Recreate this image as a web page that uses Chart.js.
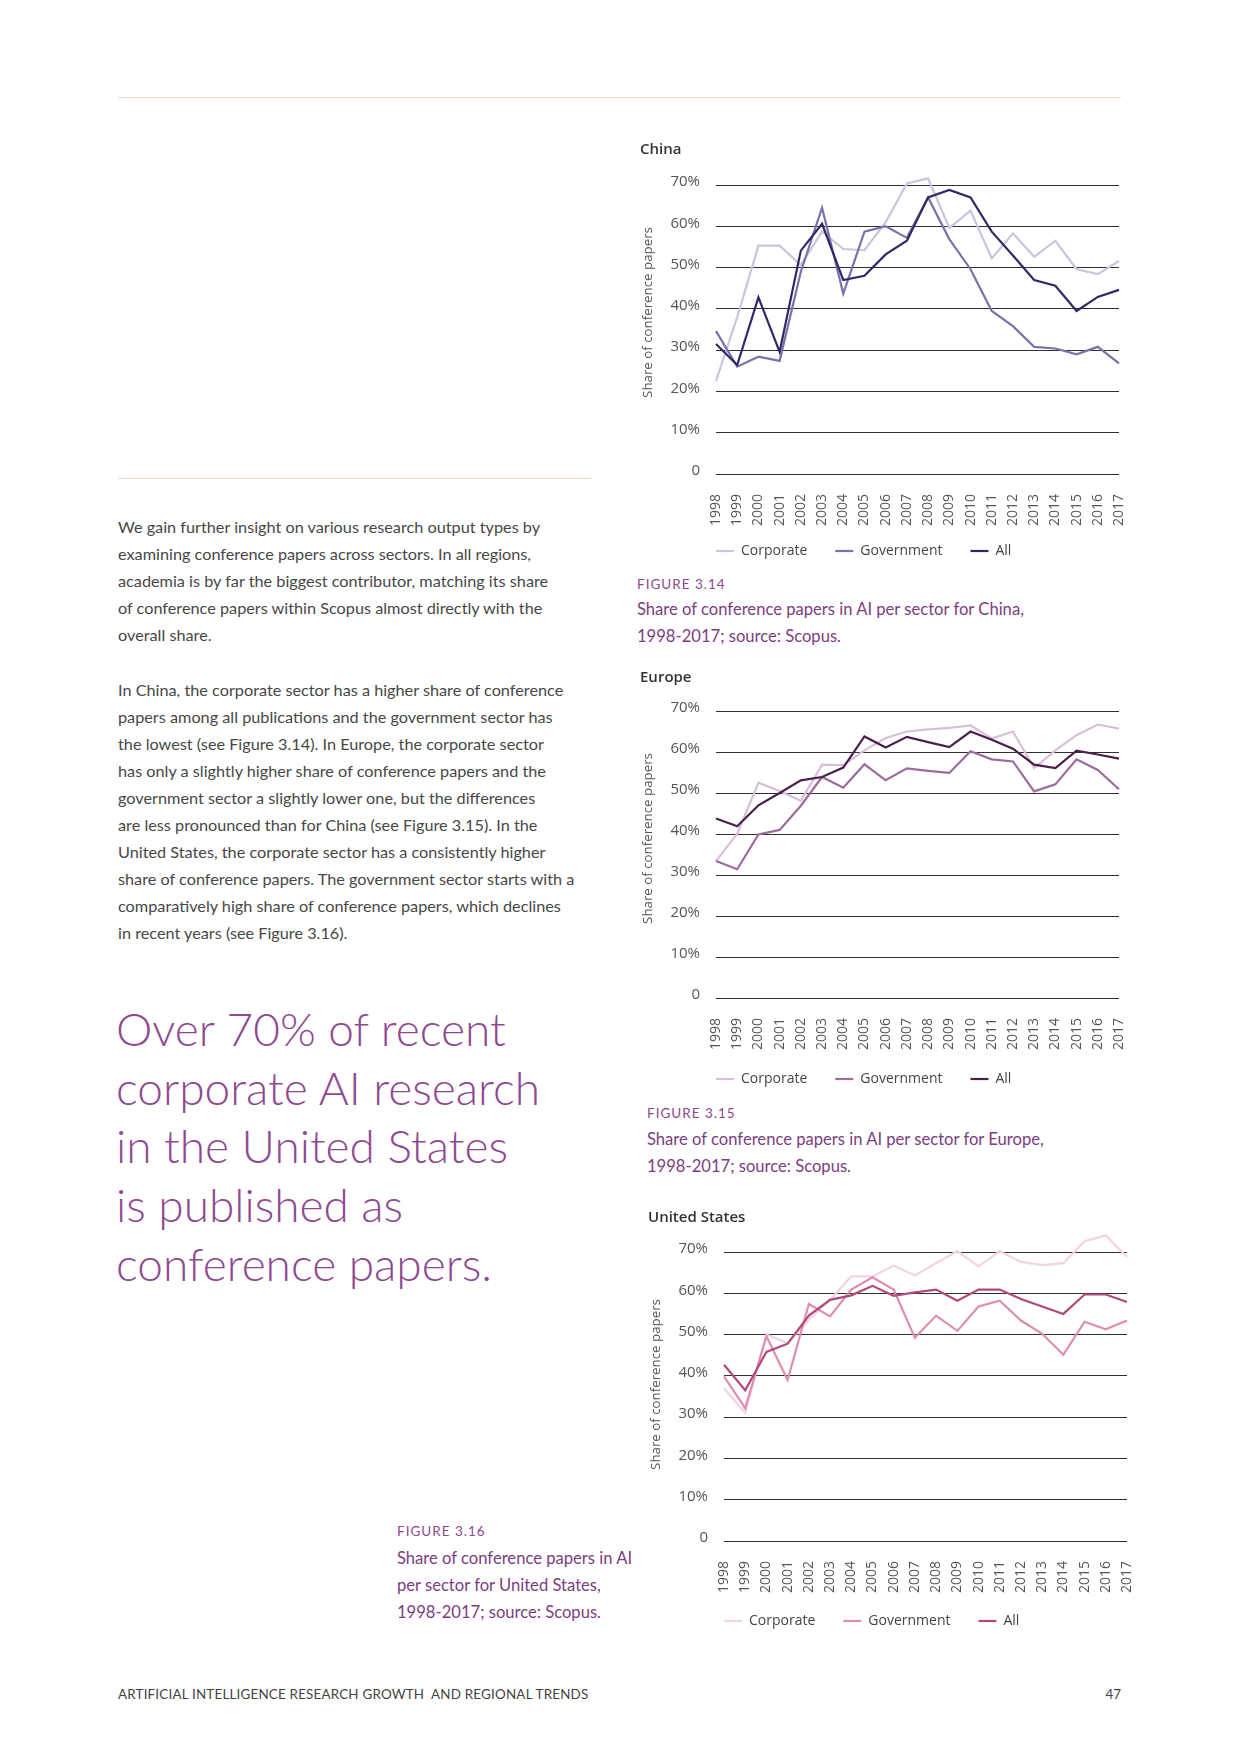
<!DOCTYPE html>
<html>
<head>
<meta charset="utf-8">
<script src="https://cdn.jsdelivr.net/npm/chart.js@4.4.0/dist/chart.umd.min.js"></script>
<style>
  body { margin: 0; background: #fff; }
  #page { position: relative; width: 1240px; height: 1754px; font-family: Lato, "Open Sans", sans-serif; }
  .rule { position: absolute; height: 1px; background: #f6d8c0; }
  .abs { position: absolute; white-space: nowrap; }
  .body { left: 118px; top: 513px; font-size: 16.25px; line-height: 27.1px; color: #474747; }
  .quote { left: 116px; top: 1000px; font-size: 46px; line-height: 58.7px; font-weight: 300; color: #8e4a91; }
  .figlabel { font-size: 13.5px; letter-spacing: 1px; color: #8b4a8c; line-height: 16px; }
  .figtext { font-size: 16.6px; color: #7b3e7e; line-height: 26.8px; }
  .footer { left: 118px; top: 1686px; font-size: 13.4px; color: #444; letter-spacing: 0.2px; line-height: 16px; }
  .pageno { left: 1090px; width: 31px; text-align: right; top: 1686px; font-size: 13.4px; color: #444; line-height: 16px; }
  canvas { position: absolute; }
</style>
</head>
<body>
<div id="page">
  <div class="rule" style="left:118px; top:97px; width:1003px;"></div>
  <div class="rule" style="left:118px; top:478px; width:473px;"></div>

  <div class="abs body">
    We gain further insight on various research output types by<br>
    examining conference papers across sectors. In all regions,<br>
    academia is by far the biggest contributor, matching its share<br>
    of conference papers within Scopus almost directly with the<br>
    overall share.<br><br>
    In China, the corporate sector has a higher share of conference<br>
    papers among all publications and the government sector has<br>
    the lowest (see Figure 3.14). In Europe, the corporate sector<br>
    has only a slightly higher share of conference papers and the<br>
    government sector a slightly lower one, but the differences<br>
    are less pronounced than for China (see Figure 3.15). In the<br>
    United States, the corporate sector has a consistently higher<br>
    share of conference papers. The government sector starts with a<br>
    comparatively high share of conference papers, which declines<br>
    in recent years (see Figure 3.16).
  </div>

  <div class="abs quote">
    Over 70% of recent<br>
    corporate AI research<br>
    in the United States<br>
    is published as<br>
    conference papers.
  </div>

  <div class="abs figlabel" style="left:637px; top:576px;">FIGURE 3.14</div>
  <div class="abs figtext" style="left:637px; top:596px;">Share of conference papers in AI per sector for China,<br>1998-2017; source: Scopus.</div>

  <div class="abs figlabel" style="left:647px; top:1105px;">FIGURE 3.15</div>
  <div class="abs figtext" style="left:647px; top:1126px;">Share of conference papers in AI per sector for Europe,<br>1998-2017; source: Scopus.</div>

  <div class="abs figlabel" style="left:397px; top:1523px;">FIGURE 3.16</div>
  <div class="abs figtext" style="left:397px; top:1545px;">Share of conference papers in AI<br>per sector for United States,<br>1998-2017; source: Scopus.</div>

  <div class="abs footer">ARTIFICIAL INTELLIGENCE RESEARCH GROWTH &nbsp;AND REGIONAL TRENDS</div>
  <div class="abs pageno">47</div>

  <canvas id="china" width="500" height="460" style="left:640px; top:132px;"></canvas>
  <canvas id="europe" width="500" height="460" style="left:640px; top:660px;"></canvas>
  <canvas id="us" width="500" height="465" style="left:648px; top:1200px;"></canvas>
</div>

<script>
const years = ["1998", "1999", "2000", "2001", "2002", "2003", "2004", "2005", "2006", "2007",
  "2008", "2009", "2010", "2011", "2012", "2013", "2014", "2015", "2016", "2017"];
const yTicks = [0, 10, 20, 30, 40, 50, 60, 70];
const seriesNames = ["Corporate", "Government", "All"];

// China
const chinaCorporate = [22.5, 38, 55.3, 55.3, 50.6, 58.7, 54.5, 54.2, 61, 70.4,
  71.6, 59.6, 63.8, 52.2, 58.3, 52.6, 56.5, 49.6, 48.4, 51.6];
const chinaGovernment = [34.6, 26, 28.4, 27.4, 49, 64.5, 43.7, 58.7, 60, 57.2,
  67, 56.9, 49.6, 39.5, 35.8, 30.8, 30.4, 29, 30.8, 26.8];
const chinaAll = [31.5, 26.4, 42.8, 29.6, 54.1, 60.6, 47, 48, 53.2, 56.5,
  67, 68.8, 67, 58.7, 52.9, 47, 45.6, 39.5, 42.9, 44.6];

// Europe
const europeCorporate = [33.4, 40.1, 52.5, 50.5, 48.1, 56.9, 56.8, 60.4, 63.4, 65,
  65.5, 65.9, 66.5, 63.3, 65, 56.1, 60.4, 64.1, 66.7, 65.7];
const europeGovernment = [33.4, 31.4, 39.9, 41, 46.9, 53.9, 51.3, 57, 53.1, 56,
  55.4, 54.9, 60.2, 58.2, 57.7, 50.4, 52.1, 58.2, 55.6, 50.9];
const europeAll = [43.8, 41.9, 47, 50, 53.1, 53.9, 56.2, 63.8, 61.1, 63.7,
  62.4, 61.2, 65, 63, 60.8, 56.9, 56.1, 60.3, 59.4, 58.4];

// United States
const usCorporate = [37, 31.1, 50, 47.9, 53.6, 58.4, 64.1, 64.1, 66.7, 64.3,
  67.3, 70.2, 66.5, 70.2, 67.6, 66.8, 67.3, 72.6, 74, 68.8];
const usGovernment = [39.9, 32.2, 49.6, 39, 57.4, 54.4, 60.9, 63.9, 60.9, 49.2,
  54.6, 50.9, 56.8, 58.2, 53.4, 50.2, 45.1, 53.1, 51.3, 53.4];
const usAll = [42.7, 36.5, 45.8, 47.8, 54.6, 58.4, 59.5, 61.8, 59.4, 60.2,
  60.9, 58.2, 60.9, 60.9, 58.6, 56.8, 55, 59.7, 59.7, 57.9];

const FONT = "'Open Sans', Lato, sans-serif";

// legend starts at the plot's left edge, a fixed gap under it;
// the y axis title sits a little above the middle of the plot
const placeBits = (gap, titleShift) => ({
  id: "placeBits",
  afterLayout(chart) {
    const lg = chart.legend;
    const pad = lg.options.labels.padding;
    lg.left = chart.chartArea.left - pad;
    const shift = chart.chartArea.bottom + gap - (lg.top + pad + 7);
    lg.top += shift;
    lg.bottom += shift;

    const y = chart.scales.y;
    if (!y._titleMoved) {
      const orig = y.drawTitle.bind(y);
      y.drawTitle = () => {
        chart.ctx.save();
        chart.ctx.translate(0, titleShift);
        orig();
        chart.ctx.restore();
      };
      y._titleMoved = true;
    }
  },
});

function drawChart(id, title, values, colors, opt) {
  const ctx = document.getElementById(id).getContext("2d");
  const datasets = values.map((v, i) => ({
    label: seriesNames[i],
    data: v,
    borderColor: colors[i],
    backgroundColor: colors[i],
    borderWidth: 2.2,
    pointRadius: 0,
    tension: 0,
    fill: false,
    clip: false,
    order: 3 - i, // "All" drawn on top
  }));

  return new Chart(ctx, {
    type: "line",
    data: { labels: years, datasets },
    options: {
      responsive: false,
      animation: false,
      layout: { padding: { top: 0, left: 0, right: 21, bottom: 0 } },
      plugins: {
        title: {
          display: true,
          text: title,
          align: "start",
          color: "#333",
          font: { family: FONT, size: 15, weight: "600" },
          padding: { top: 9, bottom: opt.titleGap },
        },
        legend: {
          position: "bottom",
          align: "start",
          labels: {
            usePointStyle: true,
            pointStyle: "line",
            pointStyleWidth: 18,
            padding: 28,
            color: "#444",
            font: { family: FONT, size: 14 },
            sort: (a, b) => a.datasetIndex - b.datasetIndex,
          },
        },
        tooltip: { enabled: false },
      },
      scales: {
        x: {
          grid: { display: false },
          border: { display: false },
          offset: false,
          ticks: {
            autoSkip: false,
            minRotation: 90,
            maxRotation: 90,
            padding: 12,
            color: "#555",
            font: { family: FONT, size: 14 },
          },
          afterFit: (s) => {
            s.height = opt.xSpace - s.chart.legend.height;
            s.paddingLeft = 0;
            s.paddingRight = 0;
          },
        },
        y: {
          min: 0,
          max: 70,
          afterBuildTicks: (s) => { s.ticks = yTicks.map((v) => ({ value: v })); },
          grid: { color: "#2f2f2f", lineWidth: 1, drawTicks: false },
          border: { display: false },
          ticks: {
            padding: 16,
            labelOffset: -3,
            color: "#555",
            font: { family: FONT, size: 15 },
            callback: (v) => (v === 0 ? "0" : v + "%"),
          },
          title: {
            display: true,
            text: "Share of conference papers",
            color: "#555",
            font: { family: FONT, size: 13.3 },
            padding: 0,
          },
          afterFit: (s) => { s.width = 76; },
        },
      },
    },
    plugins: [placeBits(opt.legendGap, opt.titleShift)],
  });
}

drawChart("china", "China", [chinaCorporate, chinaGovernment, chinaAll],
  ["#c9c5de", "#7a72aa", "#2e2a68"], { titleGap: 26, xSpace: 118, legendGap: 77, titleShift: -17 });
drawChart("europe", "Europe", [europeCorporate, europeGovernment, europeAll],
  ["#d8bfd8", "#9c6a9b", "#4a1f4b"], { titleGap: 24, xSpace: 122, legendGap: 81, titleShift: -16 });
drawChart("us", "United States", [usCorporate, usGovernment, usAll],
  ["#f4d2e2", "#dc8db1", "#b04a7b"], { titleGap: 25, xSpace: 124, legendGap: 80, titleShift: -12 });
</script>
</body>
</html>
